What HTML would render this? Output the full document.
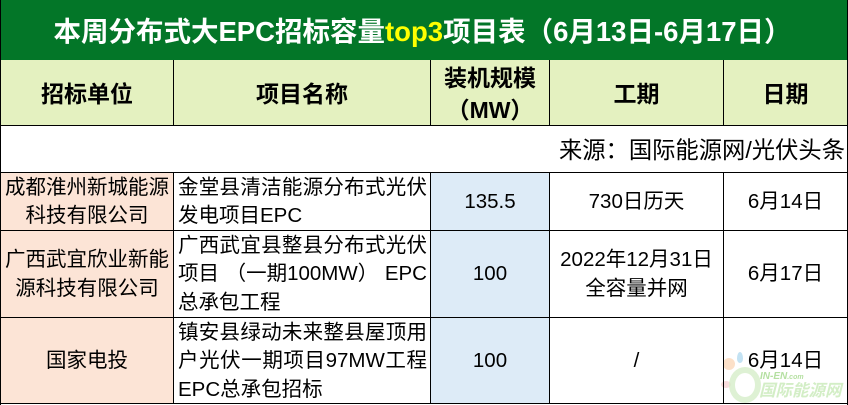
<!DOCTYPE html>
<html><head><meta charset="utf-8">
<style>
*{margin:0;padding:0;box-sizing:border-box}
html,body{width:848px;height:405px;overflow:hidden;background:#fff}
body{position:relative;font-family:"Liberation Sans","Noto Sans CJK SC",sans-serif;color:#000}
.a{position:absolute}
.hl{position:absolute;height:1px;background:#000}
.vl{position:absolute;width:1px;background:#000}
.c{position:absolute;display:flex;flex-direction:column;justify-content:center;align-items:center;text-align:center;font-size:20.5px;line-height:28.5px;white-space:nowrap}
.h{font-weight:bold;font-size:23px;line-height:32px}
.j{position:absolute;left:178px;width:249px;font-size:20.5px;line-height:28.5px;display:flex;flex-direction:column;justify-content:center;white-space:nowrap}
.j div{text-align:justify;text-align-last:justify}
.j div.l{text-align-last:left;text-align:left}
.j div.sb{display:flex;justify-content:space-between}
</style></head><body>

<!-- title -->
<div class="a" style="left:0;top:0;width:848px;height:60px;background:#037628"></div>
<div class="a" style="left:0;top:2px;width:845px;height:60px;line-height:60px;text-align:center;color:#fff;font-weight:bold;font-size:27.5px;white-space:nowrap">本周分布式大EPC招标容量<span style="color:#ffff00">top3</span>项目表（6月13日-6月17日）</div>

<!-- header bg -->
<div class="a" style="left:0;top:60px;width:848px;height:65px;background:#e4f1c0"></div>

<!-- data backgrounds -->
<div class="a" style="left:0;top:172px;width:173px;height:232px;background:#fce4d6"></div>
<div class="a" style="left:430px;top:172px;width:119px;height:232px;background:#ddebf7"></div>

<!-- header text -->
<div class="c h" style="left:1px;top:62px;width:172px;height:63px">招标单位</div>
<div class="c h" style="left:174px;top:62px;width:256px;height:63px">项目名称</div>
<div class="c h" style="left:431px;top:62px;width:118px;height:63px"><div>装机规模</div><div>（MW）</div></div>
<div class="c h" style="left:550px;top:62px;width:173px;height:63px">工期</div>
<div class="c h" style="left:724px;top:62px;width:123px;height:63px">日期</div>

<!-- source -->
<div class="a" style="left:0;top:126px;width:845px;height:46px;line-height:46px;text-align:right;font-size:23.3px;white-space:nowrap;padding-top:1px">来源：国际能源网/光伏头条</div>

<!-- row 1 -->
<div class="c" style="left:1px;top:174px;width:172px;height:56px"><div>成都淮州新城能源</div><div>科技有限公司</div></div>
<div class="j" style="top:174px;height:56px"><div>金堂县清洁能源分布式光伏</div><div class="l">发电项目EPC</div></div>
<div class="c" style="left:431px;top:174px;width:118px;height:56px">135.5</div>
<div class="c" style="left:550px;top:174px;width:173px;height:56px">730日历天</div>
<div class="c" style="left:724px;top:174px;width:123px;height:56px">6月14日</div>

<!-- row 2 -->
<div class="c" style="left:1px;top:232px;width:172px;height:85px"><div>广西武宜欣业新能</div><div>源科技有限公司</div></div>
<div class="j" style="top:232px;height:85px"><div>广西武宜县整县分布式光伏</div><div class="sb"><span>项目</span><span>（一期100MW）</span><span>EPC</span></div><div class="l">总承包工程</div></div>
<div class="c" style="left:431px;top:232px;width:118px;height:85px">100</div>
<div class="c" style="left:550px;top:232px;width:173px;height:85px"><div>2022年12月31日</div><div>全容量并网</div></div>
<div class="c" style="left:724px;top:232px;width:123px;height:85px">6月17日</div>

<!-- row 3 -->
<div class="c" style="left:1px;top:319px;width:172px;height:85px">国家电投</div>
<div class="j" style="top:319px;height:85px"><div>镇安县绿动未来整县屋顶用</div><div>户光伏一期项目97MW工程</div><div class="l">EPC总承包招标</div></div>
<div class="c" style="left:431px;top:319px;width:118px;height:85px">100</div>
<div class="c" style="left:550px;top:319px;width:173px;height:85px">/</div>

<!-- watermark -->
<div class="a" style="left:723px;top:358px;width:12px;height:12px;border-radius:50%;background:#fbd3b0;opacity:.7"></div>
<div class="a" style="left:737px;top:352px;width:6px;height:11px;border-radius:50% 50% 50% 50%/60% 60% 40% 40%;background:#a9d6ee;opacity:.7"></div>
<div class="a" style="left:721px;top:381px;width:10px;height:7px;border-radius:50%;background:#f4c4c4;opacity:.6"></div>
<div class="a" style="left:729px;top:367px;width:32px;height:36px;border-radius:50%;border:6px solid #d6eec9;opacity:.8"></div>
<div class="a" style="left:760px;top:371px;font-size:10px;font-weight:bold;font-style:italic;color:#b5e0a2;white-space:nowrap">IN-EN<span style="font-size:7px">.com</span></div>
<div class="a" style="left:759px;top:380px;font-size:16.5px;line-height:22px;font-weight:bold;font-style:italic;color:#d3eec6;white-space:nowrap">国际能源网</div>

<div class="c" style="left:724px;top:319px;width:123px;height:85px">6月14日</div>

<!-- grid lines -->
<div class="vl" style="left:0;top:0;height:405px"></div>
<div class="vl" style="left:847px;top:0;height:405px"></div>
<div class="hl" style="left:0;top:125px;width:848px"></div>
<div class="hl" style="left:0;top:172px;width:848px"></div>
<div class="hl" style="left:0;top:230px;width:848px"></div>
<div class="hl" style="left:0;top:317px;width:848px"></div>
<div class="hl" style="left:0;top:403px;width:848px"></div>
<div class="vl" style="left:173px;top:60px;height:66px"></div>
<div class="vl" style="left:430px;top:60px;height:66px"></div>
<div class="vl" style="left:549px;top:60px;height:66px"></div>
<div class="vl" style="left:723px;top:60px;height:66px"></div>
<div class="vl" style="left:173px;top:172px;height:232px"></div>
<div class="vl" style="left:430px;top:172px;height:232px"></div>
<div class="vl" style="left:549px;top:172px;height:232px"></div>
<div class="vl" style="left:723px;top:172px;height:232px"></div>
</body></html>
